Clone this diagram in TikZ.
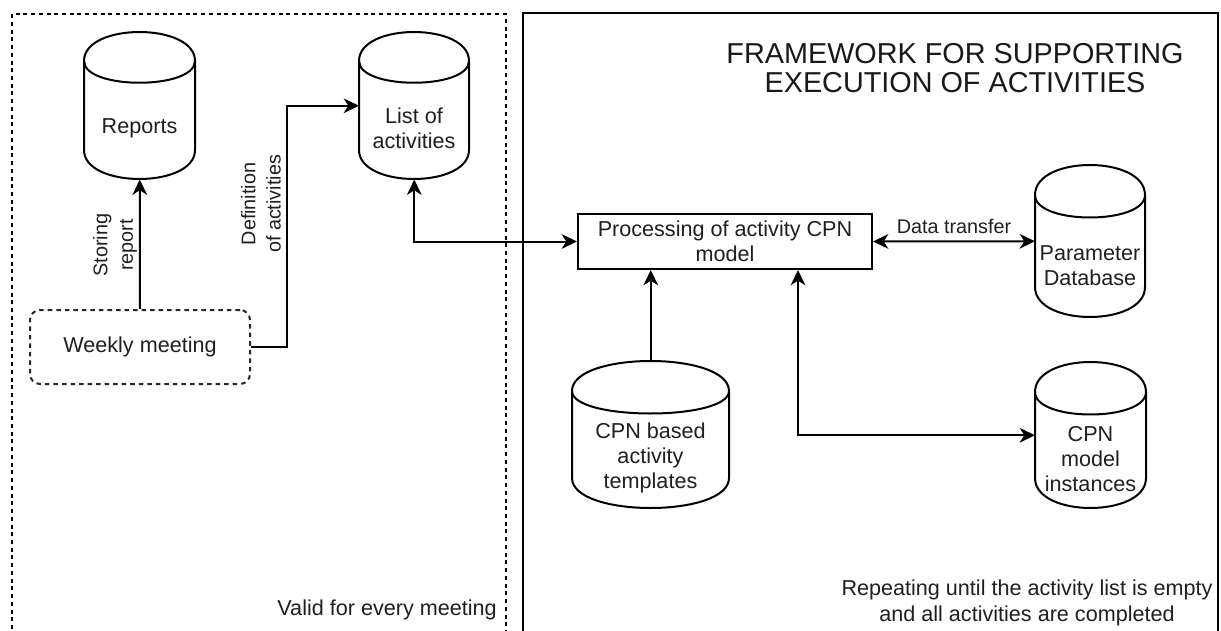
\documentclass[tikz,border=0pt]{standalone}
\usepackage{fontspec}
\setmainfont{Liberation Sans}
\usetikzlibrary{arrows.meta,calc}
\tikzset{
  ln/.style={line width=1.5pt, draw=black},
  tip/.tip={Stealth[length=11.5pt,width=11pt,inset=3.5pt]},
  arr/.style={ln, -tip},
  darr/.style={ln, tip-tip},
  txt/.style={font=\fontsize{16.2}{19}\selectfont, align=center, inner sep=0pt, text=black!88},
  lbl/.style={font=\fontsize{14.85}{19}\selectfont, align=center, inner sep=0pt, text=black!88},
  ttl/.style={font=\fontsize{21.6}{21.4}\selectfont, align=center, inner sep=0pt, text=black!90},
  cylbox/.style={draw=none, inner sep=0pt, anchor=north west},
}
% name, X, Y, W, H, D  (pixel units, y down)
\newcommand\dbcyl[6]{%
  \draw[ln] (#2,#3+#6) .. controls (#2,#3-#6/3) and (#2+#4,#3-#6/3) .. (#2+#4,#3+#6)
     -- (#2+#4,#3+#5-#6) .. controls (#2+#4,#3+#5+#6/3) and (#2,#3+#5+#6/3) .. (#2,#3+#5-#6) -- cycle;
  \draw[ln] (#2,#3+#6) .. controls (#2,#3+2*#6) and (#2+#4,#3+2*#6) .. (#2+#4,#3+#6);
  \node[cylbox, minimum width=#4*0.75pt, minimum height=#5*0.75pt] (#1) at (#2,#3) {};
}
\begin{document}
\begin{tikzpicture}[x=0.75pt,y=-0.75pt]
\useasboundingbox (0,0) rectangle (1221,631);
\begin{scope}
  \clip (0,0) rectangle (1221,631);
  \draw[line width=1.5pt, dash pattern=on 3pt off 2.8pt] (12,660) -- (12,14) -- (505.5,14) -- (505.5,660);
  \draw[ln] (523,660) -- (523,13.5) -- (1218,13.5) -- (1218,660);
\end{scope}

% title
\node[ttl] (title) at (955,68) {FRAMEWORK FOR SUPPORTING\\EXECUTION OF ACTIVITIES};

% cylinders
\dbcyl{rep}{84}{32}{111}{147}{29}
\node[txt] (repT) at (139.5,128) {Reports};
\dbcyl{loa}{359}{32}{110}{147}{29}
\node[txt] (loaT) at (414,128.5) {List of\\activities};
\dbcyl{param}{1035}{165}{110}{152}{30}
\node[txt] (paramT) at (1090,266) {Parameter\\Database};
\dbcyl{tmpl}{572}{361}{157}{147}{30}
\node[txt] (tmplT) at (650.5,458) {CPN based\\activity\\templates};
\dbcyl{inst}{1035}{362}{111}{146}{30}
\node[txt] (instT) at (1090.5,459) {CPN\\model\\instances};

% boxes
\node[draw, ln, draw=black!85, dash pattern=on 3.4pt off 3pt, rounded corners=7.5pt,
      minimum width=165pt, minimum height=55.5pt, txt] (wm) at (140,347) {Weekly meeting};
\node[draw, ln, minimum width=220.5pt, minimum height=41.25pt, txt] (proc) at (725,241.5)
      {Processing of activity CPN\\model};

% connectors
\draw[arr] (wm.north) -- (rep.south);
\node[lbl, rotate=90] (lblStore) at (115,245) {Storing\\report};
\draw[arr] (wm.east) -- ++(36,0) |- (loa.west);
\node[lbl, rotate=90] (lblDef) at (261,204) {Definition\\of activities};
\draw[darr] (loa.south) |- (proc.west);
\draw[darr] (proc.east) -- node[lbl, midway, yshift=11.25pt] (lblData) {Data transfer} (param.west);
\draw[arr] (tmpl.north) -- (tmpl.north |- proc.south);
\draw[darr] ([xshift=54.75pt]proc.south) |- (inst.west);

% notes
\node[txt, anchor=east] (valid) at (497,610) {Valid for every meeting};
\node[txt] (repeat) at (1027,603) {Repeating until the activity list is empty\\and all activities are completed};
\end{tikzpicture}
\end{document}
